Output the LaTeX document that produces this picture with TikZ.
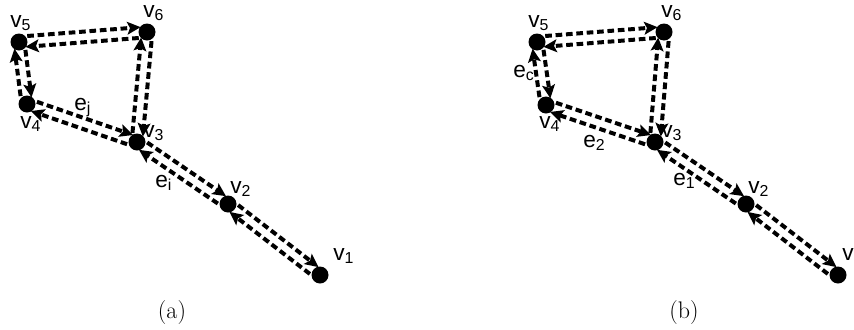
\documentclass[tikz,border=0pt]{standalone}
\usepackage{fontspec}
\newfontfamily\arialfont{Liberation Sans}
\usetikzlibrary{calc,arrows.meta}
\begin{document}
\begin{tikzpicture}[
    x=0.75pt, y=-0.75pt,
    >={Stealth[length=10pt,width=9.5pt,inset=2pt]},
    vertex/.style={circle, fill=black, inner sep=0pt, minimum size=12.75pt},
    lab/.style={anchor=base west, inner sep=0pt, font=\arialfont\fontsize{17}{20}\selectfont},
    subcap/.style={anchor=base, inner sep=0pt, font=\fontsize{18}{21}\selectfont},
    arr/.style={->, line width=3pt, dash pattern=on 5pt off 2.8pt,
        shorten <=6.5pt, shorten >=4.5pt}
]
    \useasboundingbox (0,0) rectangle (854,329);

    % (a)
    \node[vertex] (a1) at (320,275) {};
    \node[vertex] (a2) at (228,204) {};
    \node[vertex] (a3) at (137,142) {};
    \node[vertex] (a4) at (27,104) {};
    \node[vertex] (a5) at (19,42) {};
    \node[vertex] (a6) at (147,32) {};

    \node[lab] (la1) at (333,260) {v\textsubscript{1}};
    \node[lab] (la2) at (230,193) {v\textsubscript{2}};
    \node[lab] (la3) at (143,137) {v\textsubscript{3}};
    \node[lab] (la4) at (20,128) {v\textsubscript{4}};
    \node[lab] (la5) at (10,27) {v\textsubscript{5}};
    \node[lab] (la6) at (143,17) {v\textsubscript{6}};
    \node[lab] (lei) at (155,187) {e\textsubscript{i}};
    \node[lab] (lej) at (74,110) {e\textsubscript{j}};

    \foreach \s/\t in {a5/a6, a5/a4, a4/a3, a3/a6, a3/a2, a2/a1} {
        \draw[arr] ($(\s)!4pt!90:(\t)$) -- ($(\t)!4pt!-90:(\s)$);
        \draw[arr] ($(\t)!4pt!90:(\s)$) -- ($(\s)!4pt!-90:(\t)$);
    }

    \node[subcap] (capa) at (172,318) {(a)};

    % (b)
    \begin{scope}[xshift=388.5pt]
        \node[vertex] (b1) at (320,275) {};
        \node[vertex] (b2) at (228,204) {};
        \node[vertex] (b3) at (137,142) {};
        \node[vertex] (b4) at (28,105) {};
        \node[vertex] (b5) at (19,42) {};
        \node[vertex] (b6) at (146,32) {};

        \node[lab] (lb1) at (324,260) {v};
        \node[lab] (lb2) at (230,193) {v\textsubscript{2}};
        \node[lab] (lb3) at (143,137) {v\textsubscript{3}};
        \node[lab] (lb4) at (21,128) {v\textsubscript{4}};
        \node[lab] (lb5) at (10,27) {v\textsubscript{5}};
        \node[lab] (lb6) at (143,17) {v\textsubscript{6}};
        \node[lab] (le1) at (155,185) {e\textsubscript{1}};
        \node[lab] (le2) at (65,147) {e\textsubscript{2}};
        \node[lab] (lec) at (-5,77) {e\textsubscript{c}};

        \foreach \s/\t in {b5/b6, b5/b4, b4/b3, b3/b6, b3/b2, b2/b1} {
            \draw[arr] ($(\s)!4pt!90:(\t)$) -- ($(\t)!4pt!-90:(\s)$);
            \draw[arr] ($(\t)!4pt!90:(\s)$) -- ($(\s)!4pt!-90:(\t)$);
        }

        \node[subcap] (capb) at (166,318) {(b)};
    \end{scope}
\end{tikzpicture}
\end{document}
